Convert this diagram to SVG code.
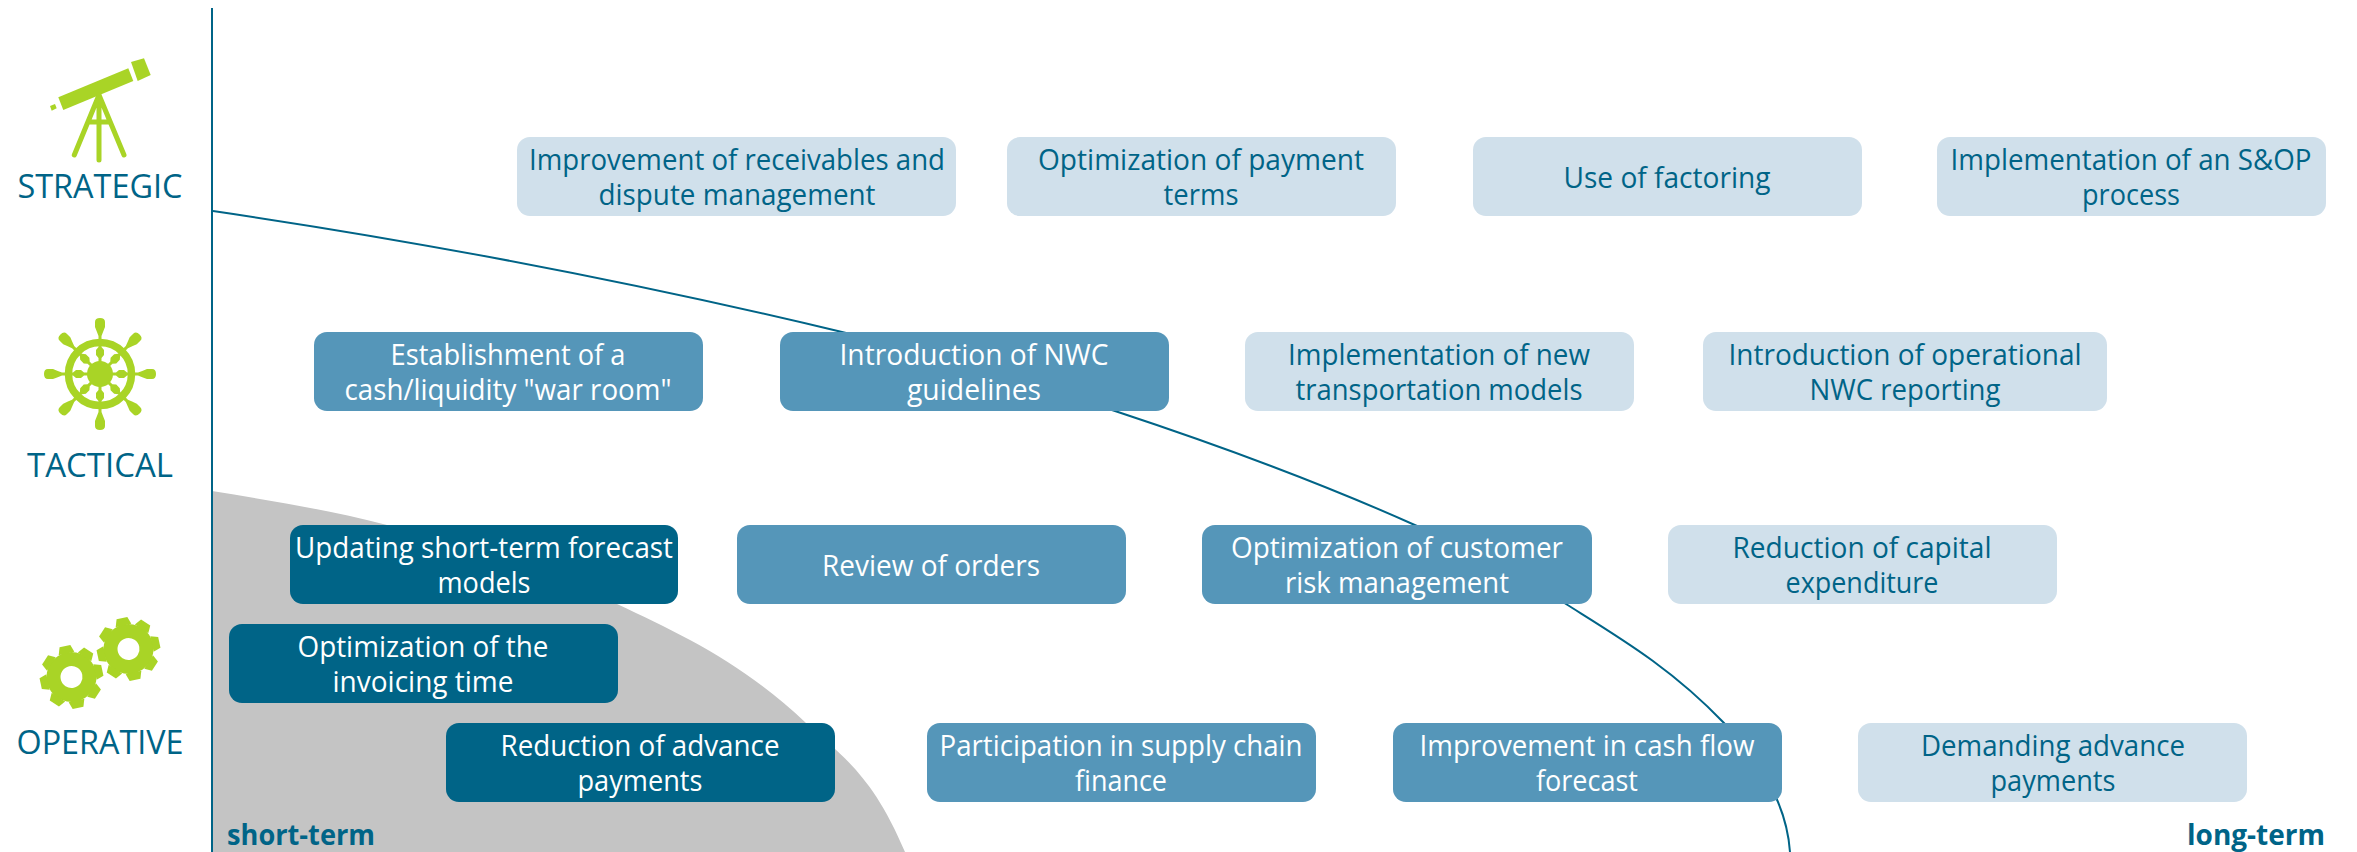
<svg xmlns="http://www.w3.org/2000/svg" xmlns:xlink="http://www.w3.org/1999/xlink" width="2357" height="852" viewBox="0 0 2357 852">
<style>
text{font-family:"Open Sans","Noto Sans","Liberation Sans",sans-serif;text-anchor:middle}
.t{font-size:29px}
.w{fill:#fff}
.b{fill:#006487}
.lab{font-size:33px;fill:#006487}
.edge{font-size:28px;font-weight:700;fill:#006487}
.dark{fill:#006487}
.mid{fill:#5596b9}
.light{fill:#d0e0eb}
.curve{fill:none;stroke:#006487;stroke-width:2}
.g{fill:#a9d426}
.gs{stroke:#a9d426;fill:none;stroke-linecap:round}
</style>
<defs>
<g id="spoke">
<path class="g" d="M-5 -52Q-5 -56 0 -56Q5 -56 5 -52L5 -47Q3 -42 1.500 -38L1.500 -27L4 -24L4 -19L1.500 -16L1.500 -10L-1.500 -10L-1.500 -16L-4 -19L-4 -24L-1.500 -27L-1.500 -38Q-3 -42 -5 -47Z"/>
</g>
<g id="gear">
<circle class="g" r="25"/>
<g id="tooth"><path class="g" d="M-8 -24L-5.500 -31.500L5.500 -31.500L8 -24Z"/></g>
<use href="#tooth" transform="rotate(45)"/><use href="#tooth" transform="rotate(90)"/><use href="#tooth" transform="rotate(135)"/><use href="#tooth" transform="rotate(180)"/><use href="#tooth" transform="rotate(225)"/><use href="#tooth" transform="rotate(270)"/><use href="#tooth" transform="rotate(315)"/>
<circle r="11" fill="#fff"/>
</g>
</defs>
<rect width="2357" height="852" fill="#fff"/>
<path id="zone" fill="#c4c4c4" d="M212 491C270.300 500.600 328.700 509.800 387 525C463.700 544.900 540.300 568 617 604C680 633.600 743 663.100 806 723C839 754 872 773 905 852L212 852Z"/>
<g id="connectors">
<path class="curve" d="M213 211C422.700 241.800 632.300 281.700 842 332C933 353.800 1024 381 1115 411C1215.700 444.200 1316.300 480.700 1417 526C1466.700 548.400 1516.300 572.700 1566 604C1618.700 637.200 1671.300 667.700 1724 723C1742 741.900 1760 758.800 1778 802C1782 811.600 1788.500 830 1790 852"/>
<path class="curve" d="M212 8L212 852"/>
</g>
<g id="icon-strategic">
<path class="g" d="M58.300 97.300L128.300 68.300L133.300 81L63.300 110Z"/>
<path class="g" d="M131 62L144 58.300L150.700 75L137.700 81Z"/>
<path class="g" d="M50 106L55 104L56.700 108.300L51.700 110.700Z"/>
<path class="gs" stroke-width="5" d="M99 95L74.300 155M99 95L124 155M99 95L99 160M90 122L110 122"/>
</g>
<g id="icon-tactical">
<circle class="gs" cx="100" cy="374" r="31.500" stroke-width="7.500"/>
<circle class="g" cx="100" cy="374" r="13"/>
<use href="#spoke" transform="translate(100 374)"/><use href="#spoke" transform="translate(100 374) rotate(45)"/><use href="#spoke" transform="translate(100 374) rotate(90)"/><use href="#spoke" transform="translate(100 374) rotate(135)"/><use href="#spoke" transform="translate(100 374) rotate(180)"/><use href="#spoke" transform="translate(100 374) rotate(225)"/><use href="#spoke" transform="translate(100 374) rotate(270)"/><use href="#spoke" transform="translate(100 374) rotate(315)"/>
</g>
<g id="icon-operative">
<use href="#gear" transform="translate(71.500 677) rotate(-12)"/>
<use href="#gear" transform="translate(128.500 649) rotate(-12)"/>
</g>
<g id="label-strategic"><text class="lab" x="100" y="198" textLength="165" lengthAdjust="spacingAndGlyphs">STRATEGIC</text></g>
<g id="label-tactical"><text class="lab" x="100" y="477" textLength="146" lengthAdjust="spacingAndGlyphs">TACTICAL</text></g>
<g id="label-operative"><text class="lab" x="100" y="754" textLength="167" lengthAdjust="spacingAndGlyphs">OPERATIVE</text></g>
<g id="n1"><rect class="light" x="517" y="137" width="439" height="79" rx="13"/><text class="t b" x="737" y="170" textLength="416" lengthAdjust="spacingAndGlyphs">Improvement of receivables and</text><text class="t b" x="737" y="205" textLength="277" lengthAdjust="spacingAndGlyphs">dispute management</text></g>
<g id="n2"><rect class="light" x="1007" y="137" width="389" height="79" rx="13"/><text class="t b" x="1201" y="170" textLength="326" lengthAdjust="spacingAndGlyphs">Optimization of payment</text><text class="t b" x="1201" y="205" textLength="75" lengthAdjust="spacingAndGlyphs">terms</text></g>
<g id="n3"><rect class="light" x="1473" y="137" width="389" height="79" rx="13"/><text class="t b" x="1667" y="188" textLength="207" lengthAdjust="spacingAndGlyphs">Use of factoring</text></g>
<g id="n4"><rect class="light" x="1937" y="137" width="389" height="79" rx="13"/><text class="t b" x="2131" y="170" textLength="361" lengthAdjust="spacingAndGlyphs">Implementation of an S&amp;OP</text><text class="t b" x="2131" y="205" textLength="98" lengthAdjust="spacingAndGlyphs">process</text></g>
<g id="n5"><rect class="mid" x="314" y="332" width="389" height="79" rx="13"/><text class="t w" x="508" y="365" textLength="235" lengthAdjust="spacingAndGlyphs">Establishment of a</text><text class="t w" x="508" y="400" textLength="327" lengthAdjust="spacingAndGlyphs">cash/liquidity "war room"</text></g>
<g id="n6"><rect class="mid" x="780" y="332" width="389" height="79" rx="13"/><text class="t w" x="974" y="365" textLength="269" lengthAdjust="spacingAndGlyphs">Introduction of NWC</text><text class="t w" x="974" y="400" textLength="134" lengthAdjust="spacingAndGlyphs">guidelines</text></g>
<g id="n7"><rect class="light" x="1245" y="332" width="389" height="79" rx="13"/><text class="t b" x="1439" y="365" textLength="302" lengthAdjust="spacingAndGlyphs">Implementation of new</text><text class="t b" x="1439" y="400" textLength="287" lengthAdjust="spacingAndGlyphs">transportation models</text></g>
<g id="n8"><rect class="light" x="1703" y="332" width="404" height="79" rx="13"/><text class="t b" x="1905" y="365" textLength="353" lengthAdjust="spacingAndGlyphs">Introduction of operational</text><text class="t b" x="1905" y="400" textLength="191" lengthAdjust="spacingAndGlyphs">NWC reporting</text></g>
<g id="n9"><rect class="dark" x="290" y="525" width="388" height="79" rx="13"/><text class="t w" x="484" y="558" textLength="378" lengthAdjust="spacingAndGlyphs">Updating short-term forecast</text><text class="t w" x="484" y="593" textLength="93" lengthAdjust="spacingAndGlyphs">models</text></g>
<g id="n10"><rect class="mid" x="737" y="525" width="389" height="79" rx="13"/><text class="t w" x="931" y="576" textLength="218" lengthAdjust="spacingAndGlyphs">Review of orders</text></g>
<g id="n11"><rect class="mid" x="1202" y="525" width="390" height="79" rx="13"/><text class="t w" x="1397" y="558" textLength="332" lengthAdjust="spacingAndGlyphs">Optimization of customer</text><text class="t w" x="1397" y="593" textLength="224" lengthAdjust="spacingAndGlyphs">risk management</text></g>
<g id="n12"><rect class="light" x="1668" y="525" width="389" height="79" rx="13"/><text class="t b" x="1862" y="558" textLength="259" lengthAdjust="spacingAndGlyphs">Reduction of capital</text><text class="t b" x="1862" y="593" textLength="153" lengthAdjust="spacingAndGlyphs">expenditure</text></g>
<g id="n13"><rect class="dark" x="229" y="624" width="389" height="79" rx="13"/><text class="t w" x="423" y="657" textLength="251" lengthAdjust="spacingAndGlyphs">Optimization of the</text><text class="t w" x="423" y="692" textLength="181" lengthAdjust="spacingAndGlyphs">invoicing time</text></g>
<g id="n14"><rect class="dark" x="446" y="723" width="389" height="79" rx="13"/><text class="t w" x="640" y="756" textLength="279" lengthAdjust="spacingAndGlyphs">Reduction of advance</text><text class="t w" x="640" y="791" textLength="125" lengthAdjust="spacingAndGlyphs">payments</text></g>
<g id="n15"><rect class="mid" x="927" y="723" width="389" height="79" rx="13"/><text class="t w" x="1121" y="756" textLength="363" lengthAdjust="spacingAndGlyphs">Participation in supply chain</text><text class="t w" x="1121" y="791" textLength="92" lengthAdjust="spacingAndGlyphs">finance</text></g>
<g id="n16"><rect class="mid" x="1393" y="723" width="389" height="79" rx="13"/><text class="t w" x="1587" y="756" textLength="335" lengthAdjust="spacingAndGlyphs">Improvement in cash flow</text><text class="t w" x="1587" y="791" textLength="102" lengthAdjust="spacingAndGlyphs">forecast</text></g>
<g id="n17"><rect class="light" x="1858" y="723" width="389" height="79" rx="13"/><text class="t b" x="2053" y="756" textLength="264" lengthAdjust="spacingAndGlyphs">Demanding advance</text><text class="t b" x="2053" y="791" textLength="125" lengthAdjust="spacingAndGlyphs">payments</text></g>
<g id="axis-short"><text class="edge" x="301" y="845" textLength="148" lengthAdjust="spacingAndGlyphs">short-term</text></g>
<g id="axis-long"><text class="edge" x="2256" y="845" textLength="138" lengthAdjust="spacingAndGlyphs">long-term</text></g>
</svg>
